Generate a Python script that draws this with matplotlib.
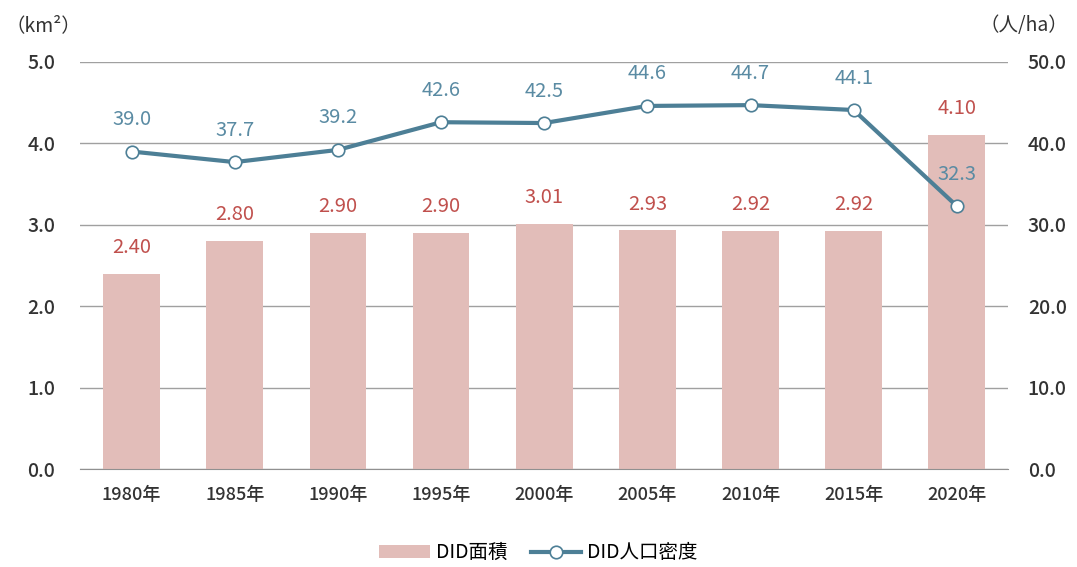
import matplotlib
matplotlib.use("Agg")
import matplotlib.pyplot as plt
import numpy as np

plt.rcParams['font.family'] = ['Noto Sans CJK JP', 'DejaVu Sans']

years = ['1980年', '1985年', '1990年', '1995年', '2000年', '2005年', '2010年', '2015年', '2020年']
area = [2.40, 2.80, 2.90, 2.90, 3.01, 2.93, 2.92, 2.92, 4.10]
density = [39.0, 37.7, 39.2, 42.6, 42.5, 44.6, 44.7, 44.1, 32.3]

bar_color = '#e2bdb9'
line_color = '#4d7f96'
bar_text = '#c0504d'
line_text = '#5a8ba3'
tick_color = '#333333'

fig = plt.figure(figsize=(10.77, 5.67), dpi=100)
ax = fig.add_axes([0.0743, 0.1728, 0.8620, 0.7179])
ax2 = ax.twinx()

x = np.arange(len(years))
ax.bar(x, area, width=0.55, color=bar_color, zorder=2, label='DID面積')
for xi, v in zip(x, area):
    ax.annotate(f'{v:.2f}', (xi, v), xytext=(0, 19), textcoords='offset points',
                ha='center', va='center', color=bar_text, fontsize=14.5)

ax.set_ylim(0, 5)
ax.set_xlim(-0.5, len(years) - 0.5)
ax.set_yticks(np.arange(0, 5.01, 1.0))
ax.set_yticklabels([f'{t:.1f}' for t in np.arange(0, 5.01, 1.0)])
ax.yaxis.grid(True, color='#a0a0a0', linewidth=1.0, zorder=0)
ax.set_axisbelow(True)
for s in ['top', 'right', 'left']:
    ax.spines[s].set_visible(False)
ax.spines['bottom'].set_color('#909090')
ax.tick_params(axis='y', length=0, labelsize=14, colors=tick_color, pad=18)
ax.tick_params(axis='x', length=0, labelsize=13, colors=tick_color, pad=12)
ax.set_xticks(x)
ax.set_xticklabels(years)

ax2.plot(x, density, color=line_color, linewidth=3, marker='o', markersize=9,
         markerfacecolor='white', markeredgecolor=line_color, markeredgewidth=1.2,
         zorder=3, label='DID人口密度')
for xi, v in zip(x, density):
    ax2.annotate(f'{v:.1f}', (xi, v), xytext=(0, 23), textcoords='offset points',
                 ha='center', va='center', color=line_text, fontsize=14.5)
ax2.set_ylim(0, 50)
ax2.set_yticks(np.arange(0, 50.1, 10))
ax2.set_yticklabels([f'{t:.1f}' for t in np.arange(0, 50.1, 10)])
for s in ['top', 'right', 'left', 'bottom']:
    ax2.spines[s].set_visible(False)
ax2.tick_params(axis='y', length=0, labelsize=14, colors=tick_color, pad=14)

for a in (ax, ax2):
    for lbl in a.get_yticklabels() + a.get_xticklabels():
        lbl.set_fontweight('medium')

fig.text(0.005, 0.955, '（km²）', ha='left', va='center', fontsize=14, color=tick_color)
fig.text(0.992, 0.955, '（人/ha）', ha='right', va='center', fontsize=14, color=tick_color)

h1, l1 = ax.get_legend_handles_labels()
h2, l2 = ax2.get_legend_handles_labels()
fig.legend(h1 + h2, l1 + l2, loc='center', bbox_to_anchor=(0.5, 0.025), ncol=2,
           frameon=False, fontsize=14, handlelength=2.6, columnspacing=1.2,
           handletextpad=0.3)

fig.savefig('out.png', dpi=100)
